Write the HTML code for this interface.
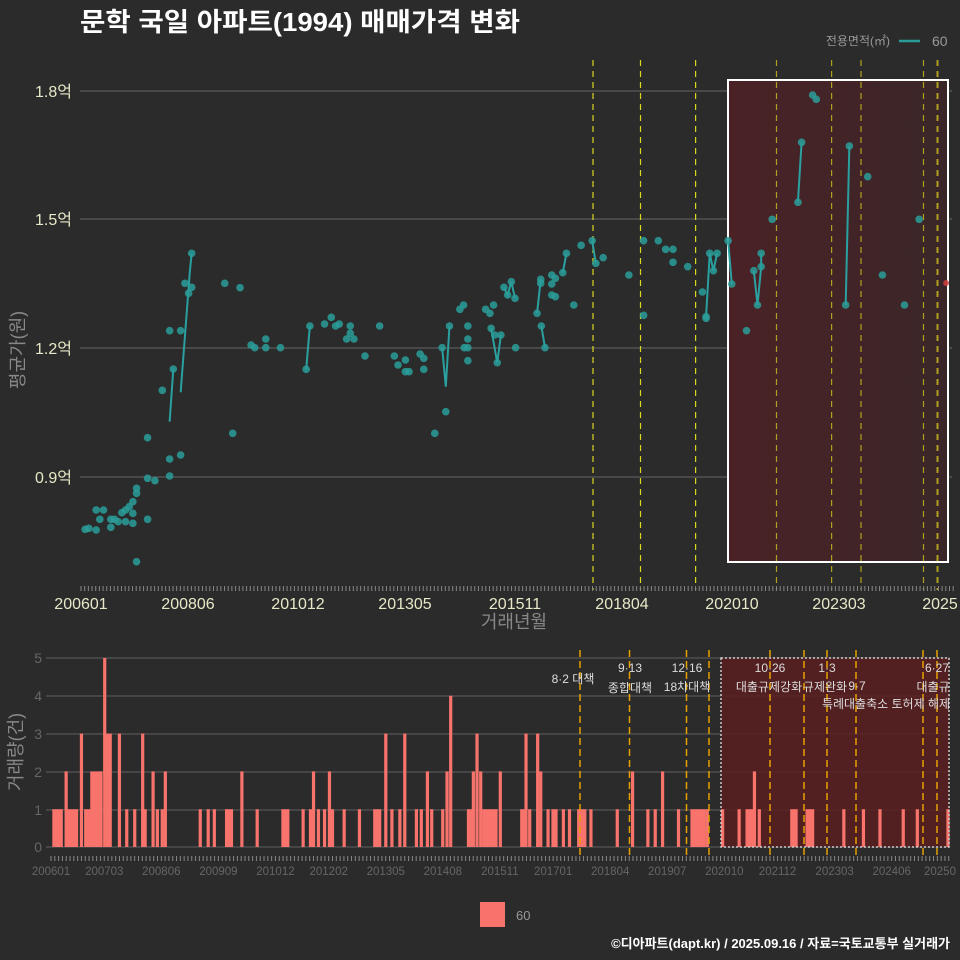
<!DOCTYPE html>
<html><head><meta charset="utf-8"><style>
html,body{margin:0;padding:0;background:#2b2b2b;}
svg{display:block;font-family:"Liberation Sans","Noto Sans CJK KR",sans-serif;}
</style></head><body>
<svg id="s" width="960" height="960" xmlns="http://www.w3.org/2000/svg">
<rect width="960" height="960" fill="#2b2b2b"/>
<defs><linearGradient id="g1" x1="0" x2="1"><stop offset="0" stop-color="#4a2226"/><stop offset="1" stop-color="#3a2628"/></linearGradient></defs>
<text x="80" y="31" fill="#fff" font-size="26" font-weight="bold" textLength="440" lengthAdjust="spacingAndGlyphs">문학 국일 아파트(1994) 매매가격 변화</text>
<text x="890" y="45" fill="#999" font-size="12" text-anchor="end">전용면적(㎡)</text>
<line x1="899" y1="41" x2="920" y2="41" stroke="#2a9d9a" stroke-width="2.5"/>
<text x="932" y="46" fill="#999" font-size="14">60</text>
<g stroke="#666" stroke-width="1">
<line x1="80" y1="91" x2="952" y2="91"/><line x1="80" y1="219" x2="952" y2="219"/>
<line x1="80" y1="348" x2="952" y2="348"/><line x1="80" y1="477" x2="952" y2="477"/>
</g>
<g fill="#e8e8c8" font-size="16" text-anchor="end">
<text x="72" y="97">1.8억</text><text x="72" y="225">1.5억</text><text x="72" y="354">1.2억</text><text x="72" y="483">0.9억</text>
</g>
<rect x="728" y="80" width="220" height="482" fill="url(#g1)" stroke="#fff" stroke-width="2"/>
<g id="topv" stroke-dasharray="6,5" stroke-width="1.2"></g>
<g id="lines" stroke="#2aa0a0" stroke-width="2" fill="none"></g>
<g id="pts" fill="#2a9d9a" fill-opacity="0.85"></g>
<g id="ticks" stroke="#888" stroke-width="1"></g>
<g fill="#e8e8c8" font-size="16" text-anchor="middle">
<text x="81" y="609">200601</text><text x="188" y="609">200806</text><text x="298" y="609">201012</text>
<text x="405" y="609">201305</text><text x="515" y="609">201511</text><text x="622" y="609">201804</text>
<text x="732" y="609">202010</text><text x="839" y="609">202303</text><text x="940" y="609">2025</text>
</g>
<text x="514" y="628" fill="#888" font-size="18" text-anchor="middle">거래년월</text>
<text transform="translate(24,350) rotate(-90)" fill="#888" font-size="18" text-anchor="middle">평균가(원)</text>
<g stroke="#555" stroke-width="1.2">
<line x1="46" y1="658" x2="950" y2="658"/><line x1="46" y1="696" x2="950" y2="696"/><line x1="46" y1="734" x2="950" y2="734"/>
<line x1="46" y1="772" x2="950" y2="772"/><line x1="46" y1="810" x2="950" y2="810"/><line x1="46" y1="847" x2="950" y2="847"/>
</g>
<g fill="#666" font-size="14" text-anchor="end">
<text x="42" y="663">5</text><text x="42" y="701">4</text><text x="42" y="739">3</text><text x="42" y="777">2</text><text x="42" y="815">1</text><text x="42" y="852">0</text>
</g>
<text transform="translate(22,752) rotate(-90)" fill="#888" font-size="18" text-anchor="middle">거래량(건)</text>
<rect x="721" y="658" width="228" height="189" fill="#5a1f20" fill-opacity="0.85"/>
<g id="bars" fill="#f8736c"></g>
<rect x="721" y="658" width="228" height="189" fill="none" stroke="#ccc" stroke-width="1.5" stroke-dasharray="2,2"/>
<g id="botv" stroke="#e6a000" stroke-dasharray="7,4" stroke-width="1.5"></g>
<g id="bticks" stroke="#888" stroke-width="1"></g>
<g fill="#666" font-size="11.5" text-anchor="middle" id="blabels"></g>
<g fill="#ddd" font-size="12" text-anchor="middle">
<text x="573" y="683">8·2 대책</text>
<text x="630" y="672">9·13</text><text x="630" y="692">종합대책</text>
<text x="687" y="672">12·16</text><text x="687" y="691">18차대책</text>
<text x="770" y="672">10·26</text><text x="769" y="691">대출규제강화</text>
<text x="827" y="672">1·3</text><text x="825" y="691">규제완화</text><text x="857" y="690">9·7</text>
<text x="886" y="708">특례대출축소 토허제 해제</text>
<text x="937" y="672">6·27</text><text x="933" y="691">대출규</text>
</g>
<rect x="480" y="902" width="25" height="25" fill="#f8736c"/>
<text x="516" y="920" fill="#999" font-size="13">60</text>
<text x="950" y="948" fill="#fff" font-size="13" font-weight="bold" text-anchor="end">©디아파트(dapt.kr) / 2025.09.16 / 자료=국토교통부 실거래가</text>
</svg>
<script>
var NS="http://www.w3.org/2000/svg";
function el(p,t,a){var e=document.createElementNS(NS,t);for(var k in a)e.setAttribute(k,a[k]);document.getElementById(p).appendChild(e);return e;}
[593,640.5,695.6,776.5,831.6,861,923.5,937.5].forEach(function(x,i){el("topv","line",{x1:x,y1:60,x2:x,y2:590,stroke:i<3?"#d8d820":"#b0a020","stroke-width":i==7?2:1.2});});
for(var m=0;m<=237;m++){var x=81+3.68*m;el("ticks","line",{x1:x,y1:586,x2:x,y2:591});}
var XS=1.633;
var P1=[[302,850],[308,880],[313,862],[313,760],[367,850],[392,863],[541,952],[751,928],[757,915],[793,928],[800,940],[806,915],[823,862],[829,885],[835,845],[841,895],[877,940],[883,838],[883,850],[901,825],[901,852],[907,835],[901,885],[907,890],[919,818],[925,760],[937,915],[949,736],[967,722],[973,790],[985,773],[1027,825],[1051,722],[1051,946],[1075,722],[1087,748],[1099,748],[1099,787],[1123,800],[1147,876],[1153,950],[1159,760],[1165,812],[1171,760],[1189,722],[1195,852],[1231,812],[1237,915],[1243,800],[1243,760],[1261,658],[1303,607],[1309,427],[1327,285],[1333,298],[1381,915],[1387,438],[1417,530],[1441,825],[1477,915],[1501,658]];
var P2=[[277,32],[295,32],[283,147],[265,211],[241,353],[277,417],[295,405],[241,475],[253,482],[277,468],[223,505],[223,520],[217,545],[211,560],[205,570],[199,578],[217,580],[157,570],[169,570],[163,598],[181,598],[187,598],[193,605],[205,605],[217,610],[181,622],[139,628],[145,625],[157,630],[241,598],[223,725],[410,75],[416,83],[434,57],[434,83],[458,83],[380,340],[500,148],[506,18],[530,12],[548,18],[554,12],[566,57],[572,18],[578,57],[572,40],[596,108],[620,18],[644,108],[650,135],[662,120],[662,155],[668,155],[686,102],[692,115],[692,148],[722,83],[728,275],[710,340],[734,18],[758,83],[764,83],[764,122],[764,57],[764,18],[802,25],[808,45],[812,128],[818,45],[842,83],[884,18],[890,83],[1219,32],[1153,-5]];
function c1(p){return [p[0]/XS,p[1]/3];}function c2(p){return [p[0]/XS,p[1]/3+320];}
var L=[[c2([277,305]),c2([283,147])],[c2([295,217]),c1([310,815]),c1([313,760])],[c2([500,148]),c2([506,18])],[c2([722,83]),c2([728,200]),c2([734,18])],[c2([884,18]),c2([890,83])],[c1([919,818]),c1([925,760])],[c1([877,940]),c1([883,838])],[c1([967,722]),c1([973,790])],[c1([1153,950]),c1([1159,760]),c1([1165,812]),c1([1171,760])],[c1([1231,812]),c1([1237,915]),c1([1243,800]),c1([1243,760])],[c1([1303,607]),c1([1309,427])],[c1([1381,915]),c1([1387,438])],[c1([823,862]),c1([829,885]),c1([835,845]),c1([841,895])],[c2([802,25]),c2([812,128]),c2([818,45])],[c1([1189,722]),c1([1195,852])]];
L.forEach(function(l){el("lines","polyline",{points:l.map(function(p){return p.join(",")}).join(" ")});});
P1.forEach(function(p){var q=c1(p);el("pts","circle",{cx:q[0],cy:q[1],r:3.8});});
P2.forEach(function(p){var q=c2(p);el("pts","circle",{cx:q[0],cy:q[1],r:3.8});});
el("pts","circle",{cx:1545/XS,cy:283,r:3,fill:"#d04040"});
var B=[[88,100,1],[108,108,2],[112,125,1],[133,133,3],[140,148,1],[150,162,2],[165,165,2],[171,171,5],[175,180,3],[195,195,3],[207,207,1],[220,220,1],[233,233,3],[237,237,1],[250,250,2],[257,257,1],[265,265,1],[270,270,2],[327,327,1],[340,340,1],[350,350,1],[370,378,1],[395,395,2],[420,420,1],[462,470,1],[495,495,1],[507,507,1],[512,512,2],[520,520,1],[530,530,1],[538,538,2],[543,543,1],[562,562,1],[587,587,1],[612,620,1],[630,630,3],[640,640,1],[653,653,1],[661,661,3],[680,680,1],[688,688,1],[698,698,2],[705,705,1],[723,723,1],[730,730,2],[736,736,4],[765,770,1],[773,773,2],[779,779,3],[785,785,2],[790,810,1],[817,817,2],[852,856,1],[859,859,3],[865,865,1],[878,878,3],[883,883,2],[895,895,1],[903,903,1],[908,908,1],[920,920,1],[930,930,1],[945,955,1],[965,965,1],[1008,1008,1],[1033,1033,2],[1058,1058,1],[1070,1070,1],[1082,1082,2],[1108,1108,1],[1130,1150,1],[1155,1155,1],[1180,1180,1],[1207,1207,1],[1220,1228,1],[1232,1232,2],[1240,1240,1],[1293,1300,1],[1318,1327,1],[1378,1378,1],[1410,1410,1],[1437,1437,1],[1475,1475,1],[1498,1498,1],[1548,1548,1]];
B.forEach(function(b){var x0=b[0]/XS-1.6,x1=b[1]/XS+1.6;var h=b[2]*37.8;el("bars","rect",{x:x0,y:847-h,width:x1-x0,height:h});});
[580,629.5,686.5,709,770,804,827,856,923,937].forEach(function(x){el("botv","line",{x1:x,y1:650,x2:x,y2:858});});
for(var m=0;m<=236;m++){var x=51+3.804*m;el("bticks","line",{x1:x,y1:856,x2:x,y2:861});}
var bl=["200601","200703","200806","200909","201012","201202","201305","201408","201511","201701","201804","201907","202010","202112","202303","202406","202509"];
bl.forEach(function(t,i){var m=[0,14,29,44,59,73,88,103,118,132,147,162,177,191,206,221,236][i];var x=51+3.804*m;if(i==16)x=940;var e=el("blabels","text",{x:x,y:875});e.textContent=i==16?"20250":t;});
</script>
</body></html>
